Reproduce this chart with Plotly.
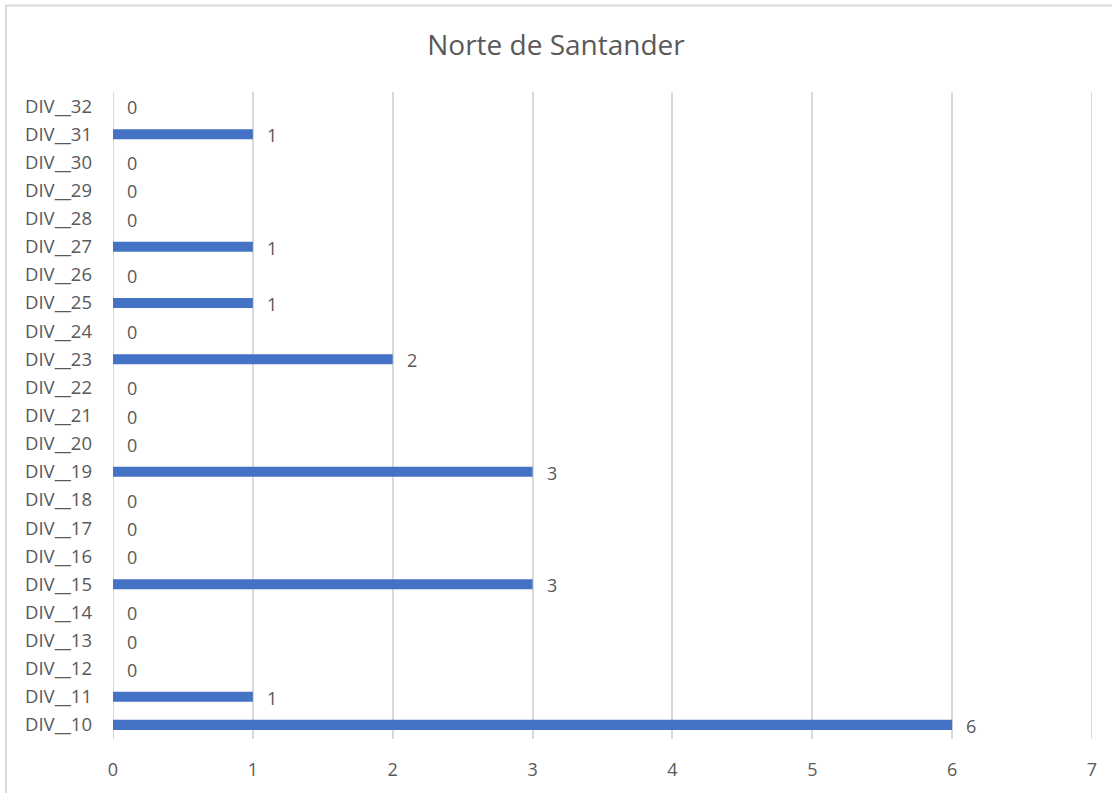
import plotly.graph_objects as go

categories = [f"DIV__{i}" for i in range(10, 33)]
values = [6, 1, 0, 0, 0, 3, 0, 0, 0, 3, 0, 0, 0, 2, 0, 1, 0, 1, 0, 0, 0, 1, 0]
x_ticks = [0, 1, 2, 3, 4, 5, 6, 7]

W, H = 1112, 793
L, R, T, B = 113, 20, 92, 51
pw, ph = W - L - R, H - T - B
font = "Segoe UI, Open Sans, sans-serif"
grey = "#595959"

fig = go.Figure(go.Bar(
    y=categories, x=values, orientation="h",
    marker=dict(color="#4472C4", line=dict(width=0)),
    width=0.36, hoverinfo="x+y",
))

for c, v in zip(categories, values):
    fig.add_annotation(x=v, y=c, xref="x", yref="y", text=str(v), showarrow=False,
                       xanchor="left", yanchor="middle", xshift=12, yshift=-1,
                       font=dict(family=font, size=18, color=grey))

fig.update_layout(
    width=W, height=H,
    margin=dict(l=L, r=R, t=T, b=B),
    paper_bgcolor="white", plot_bgcolor="white",
    title=dict(text="Norte de Santander", x=0.5, xanchor="center", y=1 - 45 / H, yanchor="middle",
               font=dict(family=font, size=28, color=grey)),
    showlegend=False,
    xaxis=dict(range=[0, 7], tickvals=x_ticks, showgrid=True, gridcolor="#D9D9D9", gridwidth=2,
               zeroline=False, showline=False, ticks="", ticklabelstandoff=18,
               tickfont=dict(family=font, size=18, color=grey)),
    yaxis=dict(type="category", range=[-0.5, len(categories) - 0.5], showgrid=False, zeroline=False,
               showline=False, ticks="", ticklabelstandoff=20,
               tickfont=dict(family=font, size=18.5, color=grey)),
    shapes=[dict(type="rect", xref="paper", yref="paper",
                 x0=(6 - L) / pw, x1=(W + 10 - L) / pw,
                 y0=-(B + 10) / ph, y1=1 + (T - 5) / ph,
                 line=dict(color="#D9D9D9", width=2), fillcolor="rgba(0,0,0,0)", layer="below")],
)

for xv in (0, 7):
    fig.add_shape(type="line", xref="x", yref="paper", x0=xv, x1=xv, y0=0, y1=1,
                  line=dict(color="#D9D9D9", width=2), layer="below")

fig.write_html("out.html", config={"displayModeBar": False},
               post_script="document.body.style.margin='0';document.body.style.overflow='hidden';")
